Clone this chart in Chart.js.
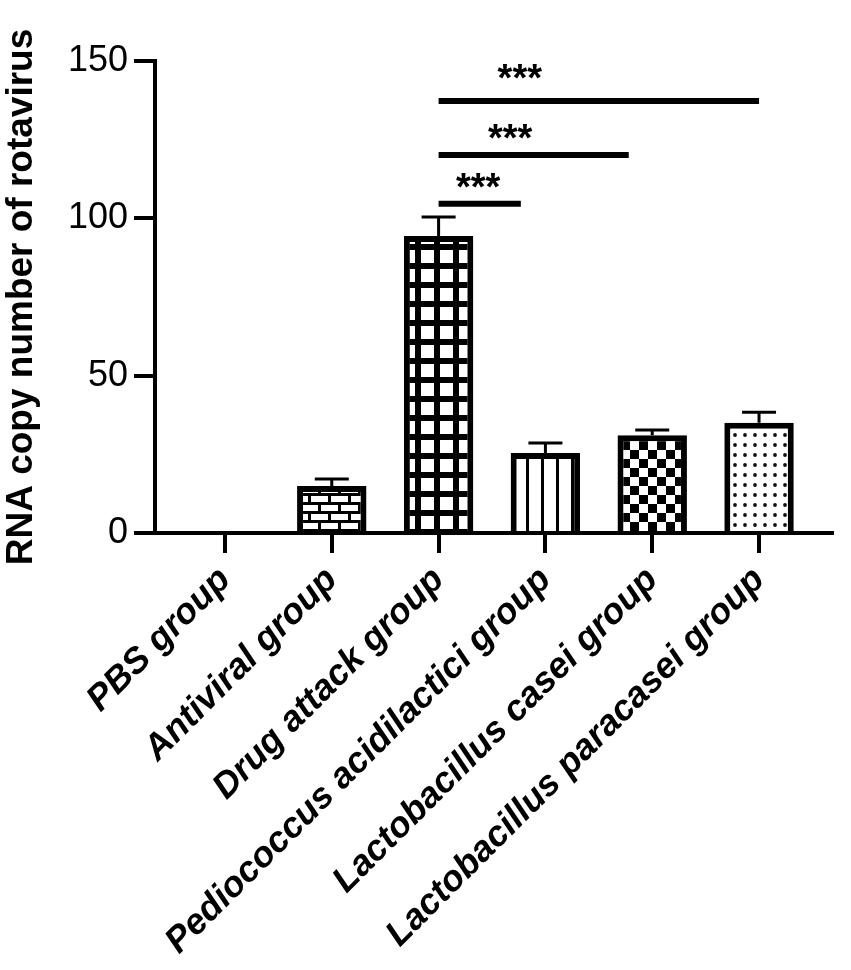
<!DOCTYPE html>
<html><head><meta charset="utf-8">
<script src="https://cdn.jsdelivr.net/npm/chart.js@4.4.0/dist/chart.umd.min.js"></script>
<style>html,body{margin:0;padding:0;background:#fff;} canvas{display:block;}</style>
</head><body>
<canvas id="c" width="851" height="970"></canvas>
<script>
// ---- data ----
const categories = ["PBS group", "Antiviral group", "Drug attack group", "Pediococcus acidilactici group", "Lactobacillus casei group", "Lactobacillus paracasei group"];
const values = [0, 14.9, 94.4, 25.4, 31.1, 35.0];
const errors = [0, 2.3, 6.0, 3.2, 1.6, 3.4];
const yTicks = [0, 50, 100, 150];
const yTitle = "RNA copy number of rotavirus";
// significance brackets (x in category index units, y in data units)
const sigFrom = [2, 2, 2];
const sigTo = [2.77, 3.78, 5];
const sigY = [104.6, 120.1, 137.3];
const sigStarX = [2.37, 2.67, 2.76];
const sigStarY = [111.5, 127.1, 145.9];
const sigLabels = ["***", "***", "***"];

const FONT = "'Liberation Sans', Arial, Helvetica, sans-serif";

// ---- patterns ----
function tile(w, h, draw) {
  const c = document.createElement('canvas');
  c.width = w; c.height = h;
  const g = c.getContext('2d');
  draw(g, w, h);
  return document.getElementById('c').getContext('2d').createPattern(c, 'repeat');
}
const patNone = '#ffffff';
const patBrick = tile(20, 18, (g) => {
  g.fillStyle = '#000'; g.fillRect(0, 0, 20, 18);
  g.fillStyle = '#fff';
  g.fillRect(1, 1, 17, 6);
  g.fillRect(11, 10, 9, 6); g.fillRect(0, 10, 8, 6);
});
const patGrid = tile(19, 19, (g) => {
  g.fillStyle = '#000'; g.fillRect(0, 0, 19, 19);
  g.fillStyle = '#fff'; g.fillRect(3, 3, 13, 13);
});
const patStripe = tile(15, 4, (g) => {
  g.fillStyle = '#fff'; g.fillRect(0, 0, 15, 4);
  g.fillStyle = '#000'; g.fillRect(1, 0, 3, 4);
});
const patChecker = tile(18, 18, (g) => {
  g.fillStyle = '#fff'; g.fillRect(0, 0, 18, 18);
  g.fillStyle = '#000'; g.fillRect(0, 0, 9, 9); g.fillRect(9, 9, 9, 9);
});
const patDots = tile(10, 10, (g) => {
  g.fillStyle = '#fff'; g.fillRect(0, 0, 10, 10);
  g.fillStyle = '#111'; g.beginPath(); g.arc(5, 5, 1.9, 0, Math.PI * 2); g.fill();
});
const fills = [patNone, patBrick, patGrid, patStripe, patChecker, patDots];

// ---- plugins ----
const errorBars = {
  id: 'errorBars',
  afterDatasetsDraw(chart) {
    const { ctx, scales: { x, y } } = chart;
    ctx.save();
    ctx.strokeStyle = '#000';
    ctx.lineWidth = 3;
    values.forEach((v, i) => {
      if (!errors[i]) return;
      const px = x.getPixelForValue(i);
      const y0 = y.getPixelForValue(v);
      const y1 = y.getPixelForValue(v + errors[i]);
      ctx.beginPath();
      ctx.moveTo(px, y0); ctx.lineTo(px, y1);
      ctx.moveTo(px - 17, y1); ctx.lineTo(px + 17, y1);
      ctx.stroke();
    });
    ctx.restore();
  }
};
const sigMarks = {
  id: 'sigMarks',
  afterDatasetsDraw(chart) {
    const { ctx, scales: { x, y } } = chart;
    ctx.save();
    ctx.strokeStyle = '#000';
    ctx.fillStyle = '#000';
    ctx.lineWidth = 6;
    ctx.lineCap = 'butt';
    sigY.forEach((lv, i) => {
      const py = y.getPixelForValue(lv);
      ctx.beginPath();
      ctx.moveTo(x.getPixelForValue(sigFrom[i]), py);
      ctx.lineTo(x.getPixelForValue(sigTo[i]), py);
      ctx.stroke();
      ctx.font = "bold 38px " + FONT;
      ctx.textAlign = 'center';
      ctx.textBaseline = 'middle';
      ctx.fillText(sigLabels[i], x.getPixelForValue(sigStarX[i]), y.getPixelForValue(sigStarY[i]) + 7);
    });
    ctx.restore();
  }
};

new Chart(document.getElementById('c'), {
  type: 'bar',
  data: {
    datasets: [{
      data: values.map((v, i) => ({ x: i, y: v })),
      backgroundColor: fills,
      borderColor: '#000',
      borderWidth: 6,
      borderSkipped: 'start',
      barPercentage: 0.65,
      categoryPercentage: 1
    }]
  },
  options: {
    responsive: false,
    animation: false,
    devicePixelRatio: 1,
    layout: { padding: { top: 61, right: 19, bottom: 0, left: 0 } },
    plugins: { legend: { display: false }, tooltip: { enabled: false } },
    scales: {
      x: {
        type: 'linear', min: -0.655, max: 5.683, offset: false,
        afterBuildTicks: (s) => { s.ticks = categories.map((c, i) => ({ value: i })); },
        afterFit: (s) => { s.height = 437; s.paddingLeft = 0; s.paddingRight = 0; },
        grid: { offset: false, drawOnChartArea: false, drawTicks: true, tickLength: 20, lineWidth: 4, color: '#000' },
        border: { display: true, width: 4, color: '#000' },
        ticks: {
          autoSkip: false, maxRotation: 45, minRotation: 45, padding: 6, color: '#000',
          font: { family: FONT, size: 36, weight: 'bold', style: 'italic' },
          callback: (v) => categories[v]
        }
      },
      y: {
        min: 0, max: 150,
        afterBuildTicks: (s) => { s.ticks = yTicks.map((v) => ({ value: v })); },
        afterFit: (s) => { s.width = 155; s.paddingTop = 0; s.paddingBottom = 0; },
        grid: { drawOnChartArea: false, drawTicks: true, tickLength: 21, lineWidth: 4, color: '#000' },
        border: { display: true, width: 4, color: '#000' },
        ticks: { padding: 6, color: '#000', font: { family: FONT, size: 36 } },
        title: { display: true, text: yTitle, color: '#000', padding: 0, font: { family: FONT, size: 37, weight: 'bold' } }
      }
    }
  },
  plugins: [errorBars, sigMarks]
});
</script>
</body></html>
